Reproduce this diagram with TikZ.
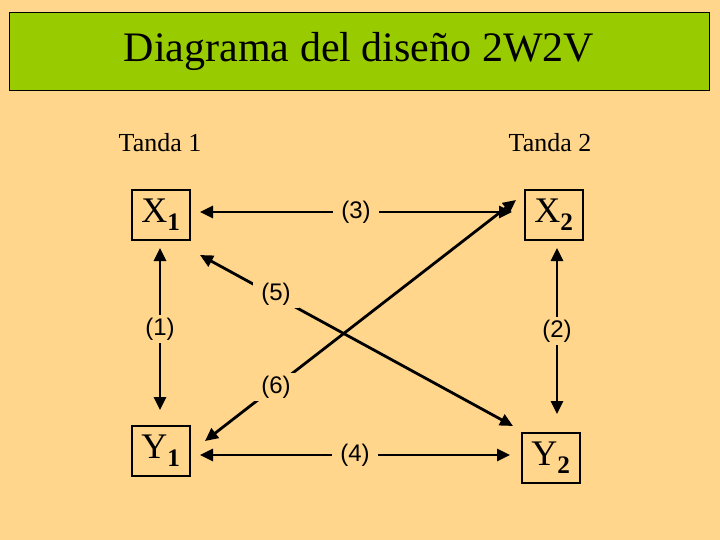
\documentclass[tikz,border=0pt]{standalone}
\usepackage{fontspec}
\setmainfont{Liberation Serif}
\newfontfamily\lab{Liberation Sans}
\usetikzlibrary{arrows.meta}
\definecolor{bg}{RGB}{255,214,140}
\definecolor{ttl}{RGB}{153,204,0}
\tikzset{
 vbox/.style={draw,line width=1.8pt,minimum width=58pt,minimum height=50pt,font=\fontsize{36}{36}\selectfont},
 arr/.style={line width=2.8pt,{Triangle[length=13pt,width=12pt]}-{Triangle[length=13pt,width=12pt]}},
 lbl/.style={font=\lab\fontsize{24}{24}\selectfont,fill=bg,inner xsep=8pt,inner ysep=3pt},
 tnd/.style={font=\fontsize{26}{26}\selectfont}
}
\begin{document}
\begin{tikzpicture}[x=1pt,y=-1pt]
\fill[bg] (0,0) rectangle (720,540);
\node[draw,line width=0.8pt,fill=ttl,minimum width=700pt,minimum height=78pt,font=\fontsize{42}{42}\selectfont] (title) at (359,51) {Diagrama del diseño 2W2V};
\node[tnd] (t1) at (160,143) {Tanda 1};
\node[tnd] (t2) at (550,143) {Tanda 2};
\node[vbox] (x1) at (161,215) {X$_{\mathbf 1}$};
\node[vbox] (x2) at (554,215) {X$_{\mathbf 2}$};
\node[vbox] (y1) at (161,451) {Y$_{\mathbf 1}$};
\node[vbox] (y2) at (551,458) {Y$_{\mathbf 2}$};
\coordinate (a1) at (200,212); \coordinate (a2) at (512,212);
\coordinate (b1) at (200,455); \coordinate (b2) at (510,455);
\coordinate (c1) at (160,248); \coordinate (c2) at (160,410);
\coordinate (d1) at (557,248); \coordinate (d2) at (557,414);
\coordinate (e1) at (200,255); \coordinate (e2) at (513,426);
\coordinate (f1) at (205,441); \coordinate (f2) at (516,200);
\draw[arr] (e1) -- (e2);
\draw[arr] (f1) -- (f2);
\draw[arr] (a1) -- node[lbl] (l3) {(3)} (a2);
\draw[arr] (b1) -- node[lbl] (l4) {(4)} (b2);
\draw[arr] (c1) -- node[lbl] (l1) {(1)} (c2);
\draw[arr] (d1) -- node[lbl] (l2) {(2)} (d2);
\node[lbl] (l5) at (276,294) {(5)};
\node[lbl] (l6) at (276,387) {(6)};
\end{tikzpicture}
\end{document}
